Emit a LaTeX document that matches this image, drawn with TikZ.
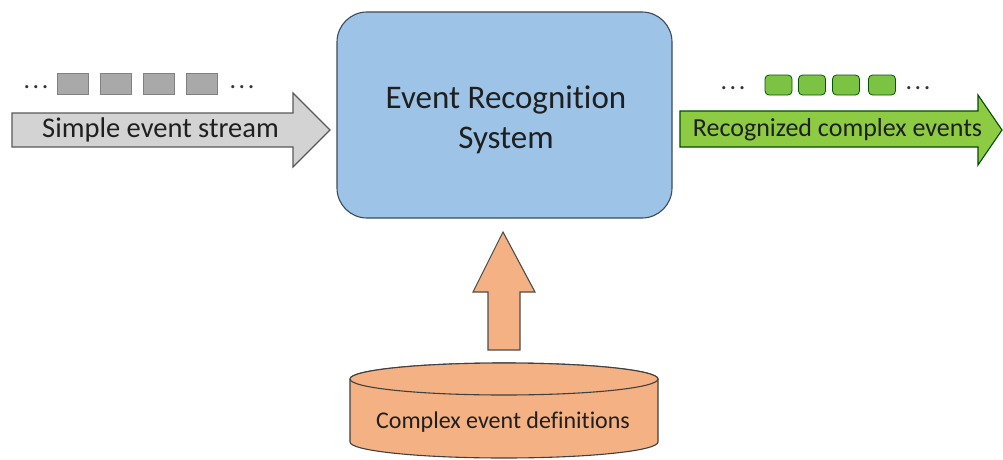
\documentclass[tikz,border=0pt]{standalone}
\usepackage{fontspec}
\setmainfont[Ligatures=NoCommon]{Carlito}
\newcommand{\spreaddots}{.\kern2.5pt.\kern2.5pt.}
\begin{document}
\begin{tikzpicture}[x=1pt,y=1pt,
  blockline/.style={line width=1.1pt},
  label/.style={inner sep=0pt, text=black!88},
  dots/.style={inner sep=0pt, anchor=base, font=\fontsize{26}{26}\selectfont, text=black!80},
  graysq/.style={draw=black!50, line width=0.8pt, minimum width=31, minimum height=21, inner sep=0pt},
  greensq/.style={draw=green!35!black, line width=0.8pt, rounded corners=4, minimum width=27, minimum height=20, inner sep=0pt}
]
\definecolor{sysblue}{HTML}{9DC3E6}
\definecolor{sysedge}{HTML}{3C4A5A}
\definecolor{streamgray}{HTML}{D3D3D3}
\definecolor{sqgray}{HTML}{A9A9A9}
\definecolor{outgreen}{HTML}{8DCB43}
\definecolor{sqgreen}{HTML}{7CC243}
\definecolor{defor}{HTML}{F4B183}
\tikzset{graysq/.append style={fill=sqgray}, greensq/.append style={fill=sqgreen}}

\useasboundingbox (0,0) rectangle (1003,459);

% central system box
\node[draw=sysedge, fill=sysblue, blockline, rounded corners=30,
      minimum width=335, minimum height=206] (ers) at (504.5,344) {};
\node[label, align=center, font=\fontsize{33}{40}\selectfont] (erstext) at (506,339)
      {Event Recognition\\System};

% incoming stream arrow
\draw[blockline, draw=black!65, fill=streamgray]
  (12,346) -- (293,346) -- (293,366) -- (330,329) -- (293,292) -- (293,312) -- (12,312) -- cycle;
\node[label, font=\fontsize{28.5}{28.5}\selectfont] (instream) at (160.5,329) {Simple event stream};

% simple events
\node[dots] (ldotsA) at (36,371) {\spreaddots};
\foreach \i/\x in {1/72.5,2/115.5,3/158.5,4/201.5}
  \node[graysq] (g\i) at (\x,375.5) {};
\node[dots] (ldotsB) at (242,371) {\spreaddots};

% outgoing arrow
\draw[blockline, draw=green!30!black, fill=outgreen]
  (680,348) -- (978,348) -- (978,364) -- (1002,329) -- (978,294) -- (978,312) -- (680,312) -- cycle;
\node[label, font=\fontsize{26}{26}\selectfont] (outstream) at (837.5,329) {Recognized complex events};

% recognized events
\node[dots] (rdotsA) at (733,370) {\spreaddots};
\foreach \i/\x in {1/778.5,2/812,3/846,4/882}
  \node[greensq] (c\i) at (\x,374) {};
\node[dots] (rdotsB) at (918,370) {\spreaddots};

% upward arrow from the definitions
\draw[blockline, draw=black!70, fill=defor]
  (488,109) -- (488,167) -- (473,167) -- (503,227) -- (535,167) -- (520,167) -- (520,109) -- cycle;

% definitions store (cylinder)
\coordinate (dbtop) at (504,80);
\draw[blockline, draw=black!75, fill=defor]
  (350,80) -- (350,17) arc[start angle=180, end angle=360, x radius=154, y radius=16]
  -- (658,80) arc[start angle=0, end angle=180, x radius=154, y radius=16] -- cycle;
\draw[blockline, draw=black!75, fill=defor] (dbtop) ellipse[x radius=154, y radius=16];
\node[label, font=\fontsize{24}{24}\selectfont] (defs) at (503,37) {Complex event definitions};
\end{tikzpicture}
\end{document}
